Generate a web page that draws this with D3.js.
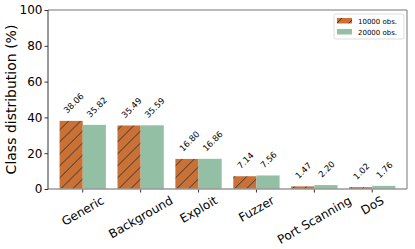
<!DOCTYPE html>
<html>
<head>
<meta charset="utf-8">
<script src="https://cdn.jsdelivr.net/npm/d3@7"></script>
<style>
  body { margin: 0; background: #fff; }
  text { font-family: "DejaVu Sans", sans-serif; }
</style>
</head>
<body>
<div id="chart"></div>
<script>
// data
var categories = ["Generic", "Background", "Exploit", "Fuzzer", "Port Scanning", "DoS"];
var series = ["10000 obs.", "20000 obs."];
var obs10000 = [38.06, 35.49, 16.80, 7.14, 1.47, 1.02];
var obs20000 = [35.82, 35.59, 16.86, 7.56, 2.20, 1.76];
var yTicks = [0, 20, 40, 60, 80, 100];

var w = 415, h = 249;
var margin = {top: 10, right: 8, bottom: 60, left: 48},
    width = w - margin.left - margin.right,
    height = h - margin.top - margin.bottom;

var svg = d3.select("#chart").append("svg")
    .attr("width", w)
    .attr("height", h);

// hatch pattern for first series
var defs = svg.append("defs");
var pat = defs.append("pattern")
    .attr("id", "hatch")
    .attr("patternUnits", "userSpaceOnUse")
    .attr("width", 12).attr("height", 12);
pat.append("rect").attr("width", 12).attr("height", 12).attr("fill", "#c97238");
pat.append("path")
    .attr("d", "M-3,15 L15,-3 M-3,3 L3,-3 M9,15 L15,9")
    .attr("stroke", "#222").attr("stroke-width", 0.8);

var colors = ["url(#hatch)", "#93c0a4"];

var g = svg.append("g")
    .attr("transform", "translate(" + margin.left + "," + margin.top + ")");

var x = d3.scaleBand().domain(categories).range([0, width]).padding(0.2);
var x1 = d3.scaleBand().domain(series).range([0, x.bandwidth()]);
var y = d3.scaleLinear().domain([0, 100]).range([height, 0]);

var rows = categories.map(function(c, i) {
  return {cat: c, vals: [obs10000[i], obs20000[i]]};
});

var groups = g.selectAll(".grp").data(rows).enter().append("g")
    .attr("transform", function(d) { return "translate(" + x(d.cat) + ",0)"; });

groups.selectAll("rect").data(function(d) {
    return d.vals.map(function(v, k) { return {s: series[k], v: v, k: k}; });
  }).enter().append("rect")
    .attr("x", function(d) { return x1(d.s); })
    .attr("y", function(d) { return y(d.v); })
    .attr("width", x1.bandwidth())
    .attr("height", function(d) { return height - y(d.v); })
    .attr("fill", function(d) { return colors[d.k]; });

// value labels
groups.selectAll(".val").data(function(d) {
    return d.vals.map(function(v, k) { return {s: series[k], v: v}; });
  }).enter().append("text")
    .attr("transform", function(d) {
      var cx = x1(d.s) + x1.bandwidth() / 2 - 4;
      var cy = y(d.v) - 7;
      return "translate(" + cx + "," + cy + ") rotate(-45)";
    })
    .attr("font-size", 8.5)
    .attr("fill", "#000")
    .text(function(d) { return d.v.toFixed(2); });

// y axis
var yAxis = g.append("g")
    .call(d3.axisLeft(y).tickValues(yTicks).tickSize(3.5).tickPadding(2));
yAxis.selectAll("text").attr("font-size", 12).attr("fill", "#000")
    .style("font-family", "DejaVu Sans, sans-serif");
yAxis.select(".domain").remove();
yAxis.selectAll("line").attr("stroke", "#333");

// x axis: labels rotated 30deg, bbox centred under tick
var xAxis = g.append("g")
    .attr("transform", "translate(0," + height + ")")
    .call(d3.axisBottom(x).tickSize(3.5).tickPadding(4));
xAxis.select(".domain").remove();
xAxis.selectAll("line").attr("stroke", "#333");
var rad = Math.PI / 6;
xAxis.selectAll("text")
    .attr("font-size", 12).attr("fill", "#000")
    .style("font-family", "DejaVu Sans, sans-serif")
    .style("text-anchor", "middle")
    .attr("y", 0).attr("dy", "0.35em")
    .attr("transform", function() {
      var L = this.getComputedTextLength();
      var half = (L * Math.sin(rad) + 12 * Math.cos(rad)) / 2;
      return "translate(0," + (5 + half) + ") rotate(-30)";
    });

// spines
g.append("line").attr("x1", 0).attr("x2", width).attr("y1", 0).attr("y2", 0)
    .attr("stroke", "#777").attr("stroke-width", 1);
g.append("line").attr("x1", width).attr("x2", width).attr("y1", 0).attr("y2", height)
    .attr("stroke", "#777").attr("stroke-width", 1);
g.append("line").attr("x1", 0).attr("x2", width).attr("y1", height).attr("y2", height)
    .attr("stroke", "#999").attr("stroke-width", 1.6);
g.append("line").attr("x1", 0).attr("x2", 0).attr("y1", 0).attr("y2", height)
    .attr("stroke", "#333").attr("stroke-width", 1);

// y label
svg.append("text")
    .attr("transform", "translate(16," + (margin.top + height / 2) + ") rotate(-90)")
    .attr("text-anchor", "middle")
    .attr("font-size", 14)
    .text("Class distribution (%)");

// legend
var lg = g.append("g").attr("transform", "translate(" + (width - 73) + ",4)");
lg.append("rect").attr("width", 70).attr("height", 25)
    .attr("fill", "#fff").attr("stroke", "#ddd").attr("rx", 2);
series.forEach(function(s, k) {
  lg.append("rect").attr("x", 3).attr("y", 4 + k * 11)
      .attr("width", 15).attr("height", 5.5).attr("fill", colors[k]);
  lg.append("text").attr("x", 24).attr("y", 9.5 + k * 11)
      .attr("font-size", 7).text(s);
});
</script>
</body>
</html>
